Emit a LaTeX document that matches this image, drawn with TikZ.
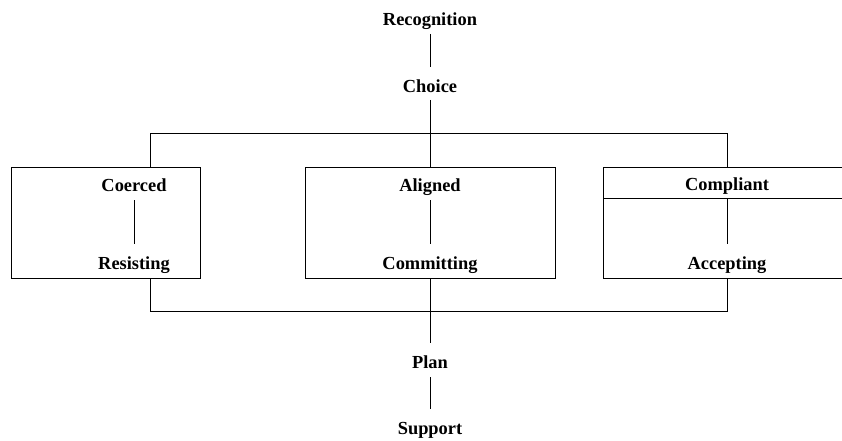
\documentclass[tikz,border=0pt]{standalone}
\usepackage{fontspec}
\setmainfont{Liberation Serif}
\begin{document}
\begin{tikzpicture}[x=1pt,y=-1pt,line width=1pt,
  lbl/.style={font=\fontsize{18.4}{20}\selectfont\bfseries,inner sep=0pt,text height=13pt,text depth=2pt},
  link/.style={shorten <=14pt,shorten >=20pt}]
\useasboundingbox (0,0) rectangle (842,441);
\begin{scope}
\clip (0,0) rectangle (842,441);
% boxes
\draw (11,167) rectangle (200,278);
\draw (305,167) rectangle (555,278);
\draw (603,167) rectangle (860,278);
\draw (603,198) -- (860,198);
\end{scope}
% labels
\node[lbl] (rec) at (430,20) {Recognition};
\node[lbl] (cho) at (430,87) {Choice};
\node[lbl] (coe) at (134,186) {Coerced};
\node[lbl] (res) at (134,264) {Resisting};
\node[lbl] (ali) at (430,186) {Aligned};
\node[lbl] (com) at (430,264) {Committing};
\node[lbl] (cpl) at (727,185) {Compliant};
\node[lbl] (acc) at (727,264) {Accepting};
\node[lbl] (pla) at (430,363) {Plan};
\node[lbl] (sup) at (430,429) {Support};
\coordinate (ctop) at (430,167);
\coordinate (cbot) at (430,278);
\coordinate (cdiv) at (727,198);
% connectors
\draw[link] (rec.center) -- (cho.center);
\draw[link] (coe.center) -- (res.center);
\draw[link] (ali.center) -- (com.center);
\draw[shorten >=20pt] (cdiv) -- (acc.center);
\draw[link] (pla.center) -- (sup.center);
\draw[shorten <=13pt] (cho.center) -- (ctop);
\draw[shorten >=20pt] (cbot) -- (pla.center);
\draw (150,167) -- (150,133) -- (727,133) -- (727,167);
\draw (150,278) -- (150,311) -- (727,311) -- (727,278);
\end{tikzpicture}
\end{document}
